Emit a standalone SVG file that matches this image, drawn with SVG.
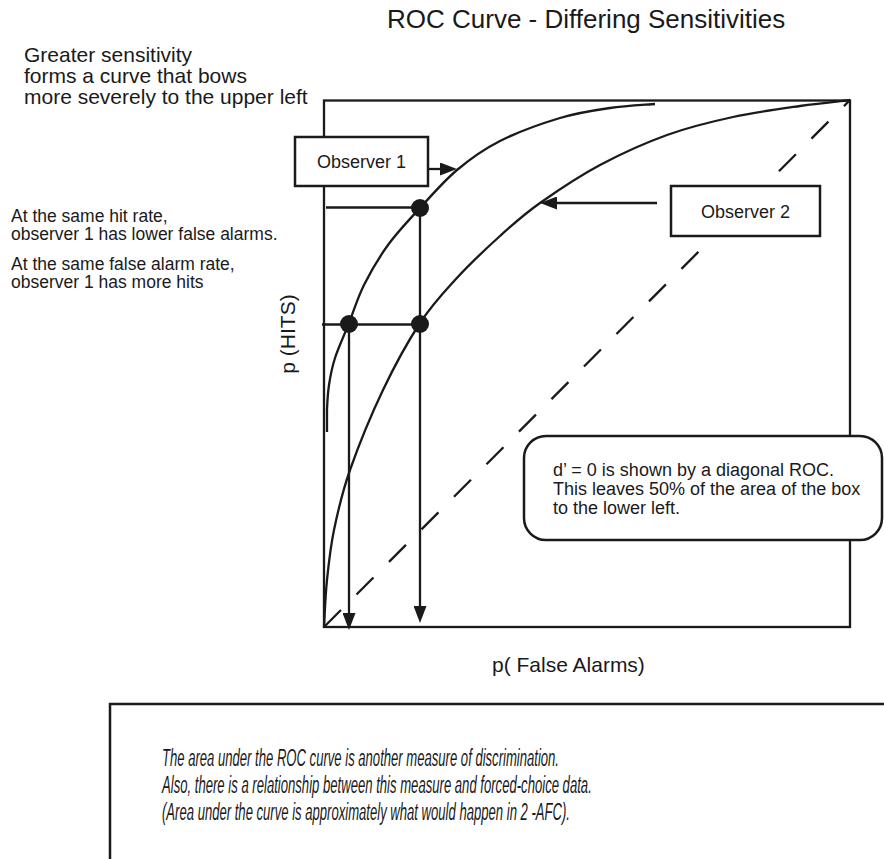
<svg xmlns="http://www.w3.org/2000/svg" width="884" height="859" viewBox="0 0 884 859">
<defs>
<style>
text{font-family:"Liberation Sans",Arial,Helvetica,sans-serif;fill:#1a1a1a}
.ln{fill:none;stroke:#1a1a1a;stroke-width:2.3}
.bx{fill:#fff;stroke:#1a1a1a;stroke-width:2.5}
.dot{fill:#1a1a1a}
.it{font-style:italic;font-size:23px}
</style>
<marker id="ah" viewBox="0 0 17 13" refX="9" refY="6.5" markerWidth="17" markerHeight="13" markerUnits="userSpaceOnUse" orient="auto">
<path d="M0,0 L17,6.5 L0,13 Z" fill="#1a1a1a"/>
</marker>
</defs>
<rect width="884" height="859" fill="#fff"/>

<g id="title"><text x="387" y="28" font-size="26">ROC Curve - Differing Sensitivities</text></g>

<g id="note-sensitivity" font-size="21">
<text x="24" y="62">Greater sensitivity</text>
<text x="24" y="83">forms a curve that bows</text>
<text x="24" y="104">more severely to the upper left</text>
</g>

<g id="note-comparison" font-size="17.5">
<text x="11" y="222">At the same hit rate,</text>
<text x="11" y="240">observer 1 has lower false alarms.</text>
<text x="11" y="270">At the same false alarm rate,</text>
<text x="11" y="288">observer 1 has more hits</text>
</g>

<g id="plot">
<rect x="324" y="100.5" width="526" height="526.5" class="ln" stroke-width="2.5"/>
<text x="295" y="334" font-size="21" text-anchor="middle" transform="rotate(-90 295 334)">p (HITS)</text>
<text x="492" y="672" font-size="21">p( False Alarms)</text>
</g>

<g id="connectors">
<path id="chance-diagonal" class="ln" d="M324,627 L850,100" stroke-dasharray="24 22"/>
<path id="curve-observer2" class="ln" d="M324,627 C324.5,619.2 325.3,596.2 327,580 C328.7,563.8 330.2,548.3 334,530 C337.8,511.7 341.8,493.3 350,470 C358.2,446.7 371.3,414.5 383,390 C394.7,365.5 408,341.3 420,323 C432,304.7 441.7,294.5 455,280 C468.3,265.5 485.8,248.8 500,236 C514.2,223.2 523.3,214.8 540,203 C556.7,191.2 578.8,176.3 600,165 C621.2,153.7 644.8,143 667,135 C689.2,127 710.8,121.8 733,117 C755.2,112.2 780.5,108.8 800,106 C819.5,103.2 841.7,101 850,100"/>
<path id="curve-observer1" class="ln" d="M327,432 L327,410 C327.3,402.2 327.7,393.7 329,385 C330.3,376.3 331.7,368.3 335,358 C338.3,347.7 344.2,335.2 349,323 C353.8,310.8 357.5,298 364,285 C370.5,272 378.7,257.8 388,245 C397.3,232.2 408.5,220.5 420,208 C431.5,195.5 443.7,181.2 457,170 C470.3,158.8 482.8,149.7 500,141 C517.2,132.3 541.7,123.5 560,118 C578.3,112.5 594.2,110.3 610,108 C625.8,105.7 647.5,104.7 655,104"/>
<path class="ln" d="M326,207.5 H420"/>
<path class="ln" d="M322,324.5 H420"/>
<path class="ln" d="M420,208 V615" marker-end="url(#ah)"/>
<path class="ln" d="M349,324 V622" marker-end="url(#ah)"/>
<path class="ln" d="M428,169 H449" marker-end="url(#ah)"/>
<path class="ln" d="M657,203 H548" marker-end="url(#ah)"/>
<circle class="dot" cx="420" cy="208" r="9"/>
<circle class="dot" cx="349" cy="324" r="9"/>
<circle class="dot" cx="420" cy="324" r="9"/>
</g>

<g id="observer1">
<rect class="bx" x="295" y="137" width="133" height="49"/>
<text x="361.5" y="168" font-size="18" text-anchor="middle">Observer 1</text>
</g>

<g id="observer2">
<rect class="bx" x="671" y="186" width="149" height="50"/>
<text x="745.5" y="218" font-size="18" text-anchor="middle">Observer 2</text>
</g>

<g id="dprime-note">
<rect class="bx" x="524" y="436" width="358" height="104" rx="22"/>
<g font-size="18">
<text x="553" y="476">d’ = 0 is shown by a diagonal ROC.</text>
<text x="553" y="495">This leaves 50% of the area of the box</text>
<text x="553" y="514">to the lower left.</text>
</g>
</g>

<g id="area-note">
<rect class="bx" x="110" y="704" width="800" height="200"/>
<g transform="translate(162,0) scale(0.58,1)">
<text class="it" x="0" y="766" textLength="684.5" lengthAdjust="spacingAndGlyphs">The area under the ROC curve is another measure of discrimination.</text>
<text class="it" x="0" y="793" textLength="741" lengthAdjust="spacingAndGlyphs">Also, there is a relationship between this measure and forced-choice data.</text>
<text class="it" x="0" y="820" textLength="703.4" lengthAdjust="spacingAndGlyphs">(Area under the curve is approximately what would happen in 2 -AFC).</text>
</g>
</g>
</svg>
